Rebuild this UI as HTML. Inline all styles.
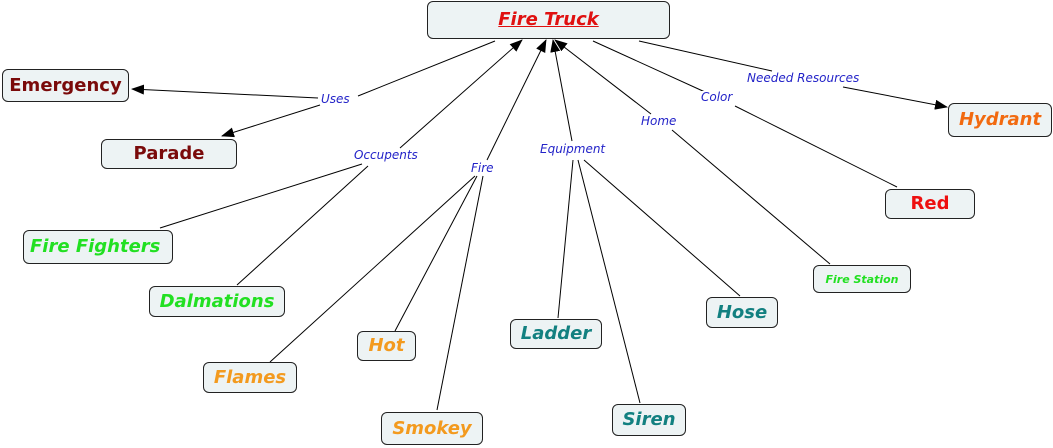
<!DOCTYPE html>
<html><head><meta charset="utf-8"><style>
body{margin:0;background:#fff;width:1053px;height:448px;overflow:hidden;position:relative;font-family:"DejaVu Sans","Liberation Sans",sans-serif}
.n{position:absolute;box-sizing:border-box;border:1px solid #222;border-radius:6px;background:#edf3f4;font-weight:bold;font-size:18px;line-height:1;display:flex;align-items:center;justify-content:center;white-space:nowrap}
.i{font-style:italic}
.dr{color:#7a0a0a}.gr{color:#22e022}.or{color:#f39a1e}.tl{color:#128080}
svg{position:absolute;left:0;top:0}
.l{position:absolute;font-size:12px;font-style:italic;color:#2323c8;background:#fff;line-height:1;white-space:nowrap}
</style></head><body>
<svg width="1053" height="448">
<defs><marker id="a" markerWidth="13" markerHeight="10" refX="12" refY="5" orient="auto" markerUnits="userSpaceOnUse"><path d="M0,0L13,5L0,10z" fill="#000"/></marker></defs>
<g stroke="#000" stroke-width="1" fill="none">
<line x1="495" y1="41" x2="358" y2="96"/>
<line x1="318" y1="98" x2="132" y2="89" marker-end="url(#a)"/>
<line x1="320" y1="105" x2="222" y2="136" marker-end="url(#a)"/>
<line x1="400" y1="148" x2="522" y2="40" marker-end="url(#a)"/>
<line x1="362" y1="164" x2="160" y2="228"/>
<line x1="368" y1="166" x2="237" y2="285"/>
<line x1="487" y1="160" x2="546" y2="40" marker-end="url(#a)"/>
<line x1="475" y1="176" x2="270" y2="362"/>
<line x1="477" y1="176" x2="395" y2="331"/>
<line x1="483" y1="176" x2="437" y2="410"/>
<line x1="572" y1="141" x2="553" y2="40" marker-end="url(#a)"/>
<line x1="573" y1="160" x2="558" y2="318"/>
<line x1="578" y1="160" x2="640" y2="403"/>
<line x1="584" y1="160" x2="740" y2="296"/>
<line x1="651" y1="114" x2="555" y2="40" marker-end="url(#a)"/>
<line x1="672" y1="130" x2="830" y2="264"/>
<line x1="593" y1="41" x2="705" y2="92"/>
<line x1="735" y1="106" x2="897" y2="187"/>
<line x1="639" y1="41" x2="772" y2="71"/>
<line x1="843" y1="87" x2="947" y2="107" marker-end="url(#a)"/>
</g></svg>
<div class="l" style="left:321px;top:93px">Uses</div>
<div class="l" style="left:354px;top:149px">Occupents</div>
<div class="l" style="left:471px;top:162px">Fire</div>
<div class="l" style="left:540px;top:143px">Equipment</div>
<div class="l" style="left:641px;top:115px">Home</div>
<div class="l" style="left:701px;top:91px">Color</div>
<div class="l" style="left:747px;top:72px">Needed Resources</div>
<div class="n i" style="left:427px;top:1px;width:243px;height:38px;color:#e01010;text-decoration:underline">Fire Truck</div>
<div class="n dr" style="left:2px;top:69px;width:127px;height:33px">Emergency</div>
<div class="n dr" style="left:101px;top:139px;width:136px;height:30px">Parade</div>
<div class="n i" style="left:948px;top:103px;width:104px;height:34px;color:#f26a10">Hydrant</div>
<div class="n" style="left:885px;top:189px;width:90px;height:30px;color:#ee1010">Red</div>
<div class="n i gr" style="left:23px;top:230px;width:150px;height:34px;justify-content:flex-start;padding-left:6px">Fire Fighters</div>
<div class="n i gr" style="left:149px;top:286px;width:136px;height:31px">Dalmations</div>
<div class="n i gr" style="left:813px;top:265px;width:98px;height:28px;font-size:11px">Fire Station</div>
<div class="n i tl" style="left:706px;top:297px;width:72px;height:31px">Hose</div>
<div class="n i tl" style="left:510px;top:319px;width:92px;height:30px">Ladder</div>
<div class="n i or" style="left:357px;top:331px;width:59px;height:30px">Hot</div>
<div class="n i or" style="left:203px;top:362px;width:94px;height:31px">Flames</div>
<div class="n i or" style="left:381px;top:412px;width:102px;height:33px">Smokey</div>
<div class="n i tl" style="left:612px;top:404px;width:74px;height:32px">Siren</div>
</body></html>
